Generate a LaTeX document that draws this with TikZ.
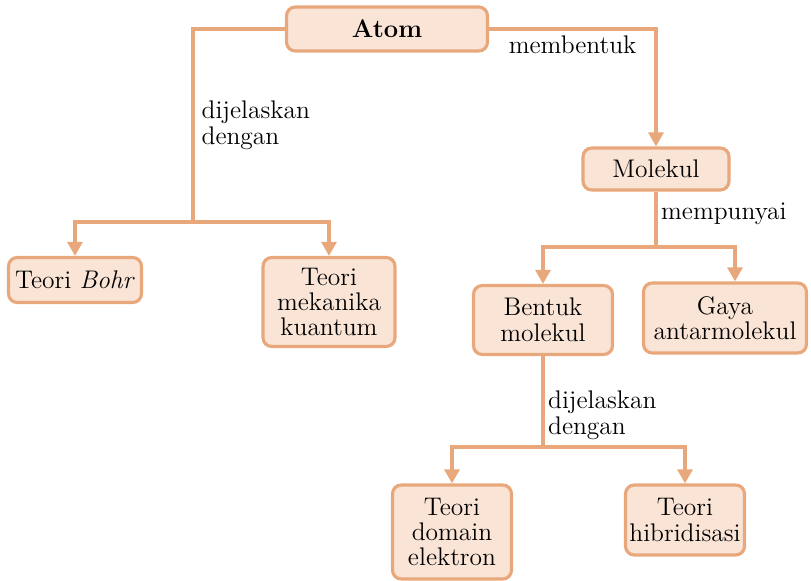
\documentclass[tikz,border=0pt]{standalone}
\usepackage{tikz}
\usetikzlibrary{arrows.meta}
\definecolor{linkcol}{HTML}{E8A87C}
\definecolor{boxcol}{HTML}{F9E4D6}

\begin{document}
\begin{tikzpicture}[x=0.02cm,y=-0.02cm,font=\fontsize{14.5}{14.5}\selectfont,
	box/.style={draw=linkcol,fill=boxcol,line width=1.8pt,rounded corners=5pt,align=center,inner sep=2pt},
	link/.style={draw=linkcol,line width=1.9pt},
	arr/.style={link,-{Triangle[width=8.5pt,length=8pt]}},
	lbl/.style={align=left,inner sep=0pt}]
			\useasboundingbox (0,0) rectangle (811,581);

			\node[box,minimum width=4.02cm,minimum height=0.88cm] (atom) at (387,29) {\bfseries Atom};
			\node[box,minimum width=2.66cm,minimum height=0.9cm] (bohr) at (75,280) {Teori \textit{Bohr}};
			\node[box,minimum width=2.64cm,minimum height=1.78cm] (kuantum) at (329,302) {Teori\\mekanika\\kuantum};
			\node[box,minimum width=2.92cm,minimum height=0.84cm] (molekul) at (656,169) {Molekul};
			\node[box,minimum width=2.78cm,minimum height=1.38cm] (bentuk) at (543,320) {Bentuk\\molekul};
			\node[box,minimum width=3.26cm,minimum height=1.4cm] (gaya) at (725,318) {Gaya\\antarmolekul};
			\node[box,minimum width=2.38cm,minimum height=1.88cm] (domain) at (452,532) {Teori\\domain\\elektron};
			\node[box,minimum width=2.38cm,minimum height=1.4cm] (hibrid) at (685,520) {Teori\\hibridisasi};

			\coordinate (kiri) at (193,222);
			\coordinate (cabang) at (656,247);
			\coordinate (bawah) at (543,447);

			\draw[link] (atom.west) -| node[lbl,pos=0.75,right=4pt] (lbla) {dijelaskan\\dengan} (kiri);
			\draw[arr] (kiri) -| (bohr.north);
			\draw[arr] (kiri) -| (kuantum.north);
			\draw[arr] (atom.east) -| node[lbl,pos=0.25,below=3pt] (lblb) {membentuk} (molekul.north);
			\draw[link] (molekul.south) -- node[lbl,pos=0.4,right=2pt] (lblc) {mempunyai} (cabang);
			\draw[arr] (cabang) -| (bentuk.north);
			\draw[arr] (cabang) -| ([xshift=0.2cm]gaya.north);
			\draw[link] (bentuk.south) -- node[lbl,pos=0.65,right=2pt] (lbld) {dijelaskan\\dengan} (bawah);
			\draw[arr] (bawah) -| (domain.north);
			\draw[arr] (bawah) -| (hibrid.north);
		\end{tikzpicture}
\end{document}
